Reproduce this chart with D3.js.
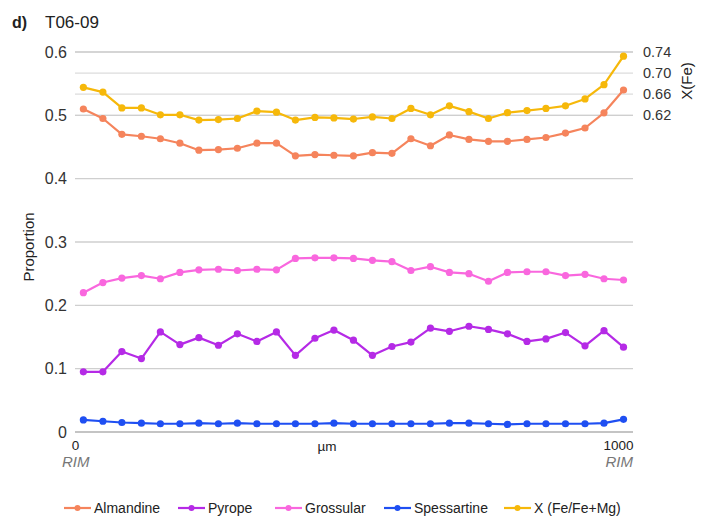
<!DOCTYPE html>
<html>
<head>
<meta charset="utf-8">
<script src="https://cdn.jsdelivr.net/npm/d3@7"></script>
<style>
  html, body { margin: 0; padding: 0; background: #fff; }
  svg { display: block; font-family: "Liberation Sans", Arial, sans-serif; }
</style>
</head>
<body>
<svg id="chart" width="710" height="529"></svg>
<script>
// Distance along the traverse (µm)
const distance = [15, 50, 84, 119, 153, 188, 222, 257, 291, 326, 361, 395, 430, 464, 499,
                  533, 568, 602, 637, 671, 706, 741, 775, 810, 844, 879, 914, 948, 983];

// End-member proportions (left axis)
const almandine = [0.510, 0.495, 0.470, 0.467, 0.463, 0.456, 0.445, 0.446, 0.448, 0.456, 0.456, 0.436, 0.438, 0.437, 0.436,
                   0.441, 0.440, 0.463, 0.452, 0.469, 0.462, 0.459, 0.459, 0.462, 0.465, 0.472, 0.480, 0.504, 0.540];
const pyrope    = [0.095, 0.095, 0.127, 0.116, 0.158, 0.138, 0.149, 0.137, 0.155, 0.143, 0.158, 0.121, 0.148, 0.161, 0.145,
                   0.121, 0.135, 0.142, 0.164, 0.159, 0.167, 0.162, 0.155, 0.143, 0.147, 0.157, 0.136, 0.160, 0.134];
const grossular = [0.220, 0.236, 0.243, 0.247, 0.242, 0.252, 0.256, 0.257, 0.255, 0.257, 0.256, 0.274, 0.275, 0.275, 0.274,
                   0.271, 0.269, 0.255, 0.261, 0.252, 0.250, 0.238, 0.252, 0.253, 0.253, 0.247, 0.249, 0.242, 0.240];
const spessartine = [0.019, 0.017, 0.015, 0.014, 0.013, 0.013, 0.014, 0.013, 0.014, 0.013, 0.013, 0.013, 0.013, 0.014, 0.013,
                     0.013, 0.013, 0.013, 0.013, 0.014, 0.014, 0.013, 0.012, 0.013, 0.013, 0.013, 0.013, 0.014, 0.020];
// Fe/(Fe+Mg) (right axis)
const xFe = [0.673, 0.664, 0.634, 0.634, 0.621, 0.621, 0.611, 0.612, 0.614, 0.628, 0.626, 0.611, 0.616, 0.615, 0.613,
             0.617, 0.614, 0.633, 0.621, 0.638, 0.627, 0.614, 0.625, 0.629, 0.633, 0.638, 0.651, 0.678, 0.732];

const leftTicks = [0, 0.1, 0.2, 0.3, 0.4, 0.5, 0.6];
const rightTicks = [0.62, 0.66, 0.70, 0.74];

const seriesNames  = ["Almandine", "Pyrope", "Grossular", "Spessartine", "X (Fe/Fe+Mg)"];
const seriesColors = ["#f5845c", "#b52ae6", "#f967de", "#1f4ff2", "#f6b80a"];

const svg = d3.select("#chart");
const plot = { left: 75, right: 633, top: 52, bottom: 432 };

const x = d3.scaleLinear().domain([0, 1000]).range([plot.left, plot.right]);
const yL = d3.scaleLinear().domain([0, 0.6]).range([plot.bottom, plot.top]);
const yR = d3.scaleLinear().domain([0.02, 0.74]).range([plot.bottom, plot.top]);

// Title
svg.append("text").attr("x", 12).attr("y", 28).attr("font-size", 16).attr("font-weight", "bold")
  .attr("fill", "#222").text("d)");
svg.append("text").attr("x", 45).attr("y", 28).attr("font-size", 17)
  .attr("fill", "#222").text("T06-09");

// Gridlines: right axis first, then left axis
const grid = svg.append("g");
grid.selectAll("line.r").data(rightTicks).join("line").attr("class", "r")
  .attr("x1", plot.left).attr("x2", plot.right)
  .attr("y1", d => yR(d)).attr("y2", d => yR(d))
  .attr("stroke", "#dcdcdc").attr("stroke-width", 1.3);
grid.selectAll("line.l").data(leftTicks).join("line").attr("class", "l")
  .attr("x1", plot.left).attr("x2", plot.right)
  .attr("y1", d => yL(d)).attr("y2", d => yL(d))
  .attr("stroke", d => d === 0 ? "#b0b0b0" : "#cfcfcf").attr("stroke-width", 1.3);

// Left axis
const leftAxis = svg.append("g").attr("transform", `translate(${plot.left - 8},0)`)
  .call(d3.axisLeft(yL).tickValues(leftTicks).tickSize(0).tickPadding(0)
    .tickFormat(d => d === 0 ? "0" : d3.format(".1f")(d)));
leftAxis.select(".domain").remove();
leftAxis.selectAll("text").attr("font-size", 16).attr("fill", "#333")
  .attr("font-family", "Liberation Sans, Arial, sans-serif");

// Right axis
const rightAxis = svg.append("g").attr("transform", `translate(${plot.right + 10},0)`)
  .call(d3.axisRight(yR).tickValues(rightTicks).tickSize(0).tickPadding(0)
    .tickFormat(d3.format(".2f")));
rightAxis.select(".domain").remove();
rightAxis.selectAll("text").attr("font-size", 14.5).attr("fill", "#333")
  .attr("font-family", "Liberation Sans, Arial, sans-serif");

// Axis titles
svg.append("text").attr("transform", "translate(34,247) rotate(-90)")
  .attr("text-anchor", "middle").attr("font-size", 15).attr("fill", "#222").text("Proportion");
svg.append("text").attr("transform", "translate(692,81) rotate(-90)")
  .attr("text-anchor", "middle").attr("font-size", 15).attr("fill", "#222").text("X(Fe)");

// Bottom axis
const bottomAxis = svg.append("g").attr("transform", `translate(0,${plot.bottom + 6})`)
  .call(d3.axisBottom(x).tickValues([0, 1000]).tickSize(0).tickPadding(0).tickFormat(d3.format("d")));
bottomAxis.select(".domain").remove();
bottomAxis.selectAll("text").attr("font-size", 13.5).attr("fill", "#222")
  .attr("font-family", "Liberation Sans, Arial, sans-serif")
  .attr("text-anchor", d => d === 1000 ? "end" : "middle")
  .attr("dy", "0.9em");
svg.append("text").attr("x", 327).attr("y", 451).attr("text-anchor", "middle")
  .attr("font-size", 13.5).attr("fill", "#222").text("µm");
svg.append("text").attr("x", 62).attr("y", 467).attr("font-size", 15)
  .attr("font-style", "italic").attr("fill", "#777").text("RIM");
svg.append("text").attr("x", 633).attr("y", 467).attr("text-anchor", "end").attr("font-size", 15)
  .attr("font-style", "italic").attr("fill", "#777").text("RIM");

// Series
const series = [
  { values: almandine, y: yL },
  { values: pyrope, y: yL },
  { values: grossular, y: yL },
  { values: spessartine, y: yL },
  { values: xFe, y: yR }
];
const drawOrder = [3, 1, 2, 0, 4];
drawOrder.forEach(i => {
  const s = series[i];
  const pts = distance.map((d, j) => [d, s.values[j]]);
  const g = svg.append("g");
  g.append("path").datum(pts)
    .attr("fill", "none").attr("stroke", seriesColors[i]).attr("stroke-width", 2.2)
    .attr("stroke-linejoin", "round")
    .attr("d", d3.line().x(p => x(p[0])).y(p => s.y(p[1])));
  g.selectAll("circle").data(pts).join("circle")
    .attr("cx", p => x(p[0])).attr("cy", p => s.y(p[1])).attr("r", 3.6)
    .attr("fill", seriesColors[i]);
});

// Legend
const legendX = [64, 178, 275, 384, 504];
const legend = svg.append("g").attr("transform", "translate(0,508)");
seriesNames.forEach((name, i) => {
  const g = legend.append("g").attr("transform", `translate(${legendX[i]},0)`);
  g.append("line").attr("x1", 0).attr("x2", 27).attr("y1", 0).attr("y2", 0)
    .attr("stroke", seriesColors[i]).attr("stroke-width", 2.2);
  g.append("circle").attr("cx", 13.5).attr("cy", 0).attr("r", 3).attr("fill", seriesColors[i]);
  g.append("text").attr("x", 30).attr("y", 0).attr("dy", "0.35em")
    .attr("font-size", 14).attr("fill", "#222").text(name);
});
</script>
</body>
</html>
